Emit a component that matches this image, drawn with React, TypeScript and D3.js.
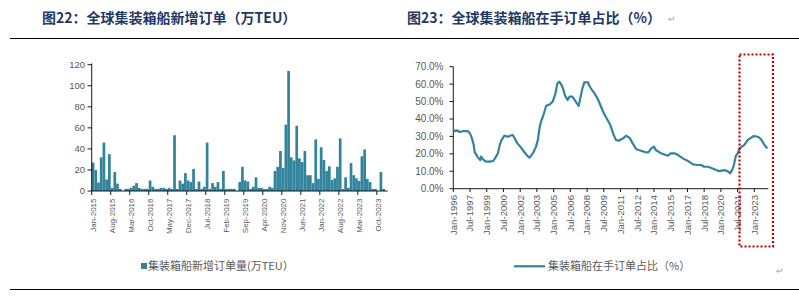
import * as d3 from 'd3';

// ---- left chart: monthly new container ship orders (万TEU), Jan-2015 .. Jan-2024
const orderStart = new Date(2015, 0, 1);
const orderValues = [
  27, 20, 8, 32, 46, 11, 35, 3, 18, 7, 2, 0,
  2, 2, 3, 5, 7.5, 3, 2, 2, 2, 10, 4, 2,
  2, 3, 3, 2, 3, 2, 53, 2, 10, 7, 17, 10,
  8.5, 21, 2, 9, 2, 4, 46, 2, 7.5, 4, 8.5, 2,
  19, 2, 2, 2, 2, 0, 8.5, 23, 10, 9, 2, 4,
  13, 3, 3, 2, 2, 4, 3, 19, 23, 38, 22, 63,
  114, 32, 29, 62, 31, 27.5, 38, 15, 15, 7.5, 49, 11.5,
  41.5, 29.5, 19, 23.5, 10.5, 12, 23, 50, 2, 13, 3, 26.5,
  15, 12, 9.5, 33, 39.5, 11.5, 8.5, 2, 2, 0, 18, 2,
  0,
];
const orderTickLabels = [
  'Jan-2015', 'Aug-2015', 'Mar-2016', 'Oct-2016', 'May-2017', 'Dec-2017',
  'Jul-2018', 'Feb-2019', 'Sep-2019', 'Apr-2020', 'Nov-2020', 'Jun-2021',
  'Jan-2022', 'Aug-2022', 'Mar-2023', 'Oct-2023',
];
const orderYTicks = [0, 20, 40, 60, 80, 100, 120];

// ---- right chart: orderbook share of fleet (%)
const shareMonths = [
  '1996-01', '1996-03', '1996-05', '1996-08', '1996-11', '1997-03', '1997-05', '1997-07',
  '1997-09', '1997-11', '1997-12', '1998-03', '1998-06', '1998-07', '1998-09', '1998-12',
  '1999-04', '1999-08', '1999-11', '2000-01', '2000-03', '2000-05', '2000-08', '2000-12',
  '2001-02', '2001-05', '2001-07', '2001-10', '2002-02', '2002-06', '2002-09', '2002-11',
  '2003-03', '2003-06', '2003-08', '2003-10', '2003-12', '2004-02', '2004-05', '2004-09',
  '2004-12', '2005-03', '2005-05', '2005-07', '2005-09', '2005-11', '2006-01', '2006-04',
  '2006-06', '2006-09', '2006-11', '2007-02', '2007-04', '2007-05', '2007-08', '2007-10',
  '2008-02', '2008-03', '2008-05', '2008-09', '2009-01', '2009-04', '2009-07', '2009-10',
  '2010-02', '2010-05', '2010-08', '2010-11', '2011-02', '2011-04', '2011-07', '2011-11',
  '2012-02', '2012-06', '2012-11', '2013-05', '2013-07', '2013-10', '2014-01', '2014-03',
  '2014-07', '2014-10', '2015-04', '2015-07', '2015-11', '2016-03', '2016-08', '2017-01',
  '2017-07', '2017-12', '2018-04', '2018-07', '2018-11', '2019-02', '2019-08', '2019-11',
  '2020-05', '2020-08', '2020-11', '2021-01', '2021-03', '2021-05', '2021-07', '2021-09',
  '2021-11', '2022-02', '2022-06', '2022-09', '2022-12', '2023-05', '2023-08', '2023-12',
  '2024-03',
];
const shareValues = [
  34, 33, 33.5, 32.5, 33, 33, 33, 31.7,
  29, 25, 21, 18.4, 16.4, 18.4, 16.8, 15.5,
  15.5, 15.9, 18.4, 20.3, 25, 28, 30.4, 29.8,
  30.4, 30.8, 29, 26, 23.5, 20.6, 18.7, 17.8,
  20.6, 24, 28, 35.5, 39.4, 42.3, 47.6, 48.4,
  50, 54.7, 60.4, 61.4, 59.9, 57.6, 53.7, 50.9,
  52.8, 52.8, 51.4, 49, 47.6, 50, 57.6, 61,
  61, 59.5, 57.6, 54.7, 50.9, 47, 43.2, 40.4,
  36.5, 31.7, 28, 27.5, 28.5, 29, 30.4, 29,
  26, 22.6, 21.8, 20.8, 20.8, 23.1, 24.1, 22.2,
  20.8, 20.1, 18.9, 20.3, 20.3, 19.3, 17.4, 16.1,
  14, 13.6, 13.6, 12.6, 12.6, 12, 10.7, 10.1,
  10.7, 10.1, 8.8, 10.7, 13.6, 18.7, 20.3, 22.8,
  24.1, 25, 28, 29, 30.2, 29.8, 28.5, 25,
  23.1,
];
const shareTickLabels = [
  'Jan-1996', 'Jul-1997', 'Jan-1999', 'Jul-2000', 'Jan-2002', 'Jul-2003', 'Jan-2005',
  'Jul-2006', 'Jan-2008', 'Jul-2009', 'Jan-2011', 'Jul-2012', 'Jan-2014', 'Jul-2015',
  'Jan-2017', 'Jul-2018', 'Jan-2020', 'Jul-2021', 'Jan-2023',
];
const shareYTicks = [0, 0.1, 0.2, 0.3, 0.4, 0.5, 0.6, 0.7];

const TEAL = '#31849B';
const GREY = '#595959';
const NAVY = '#1F3864';
const LATIN = '"Liberation Sans", Arial, sans-serif';
const CJK = '"Noto Sans CJK SC", sans-serif';

function OrderChart() {
  const cats = d3.timeMonth.range(orderStart, d3.timeMonth.offset(orderStart, orderValues.length));
  const fmt = d3.timeFormat('%b-%Y');
  const x = d3.scaleBand<Date>().domain(cats).range([91.7, 387.7]).padding(0);
  const y = d3.scaleLinear().domain([0, 120]).range([191, 64.7]);
  const tickCats = cats.filter((d) => orderTickLabels.includes(fmt(d)));

  return (
    <g>
      {orderValues.map((v, i) => (
        <rect key={i} x={x(cats[i])!} width={x.bandwidth()} y={y(v)} height={y(0) - y(v)} fill={TEAL} />
      ))}
      <line x1={91.7} x2={91.7} y1={63.5} y2={191} stroke="#000" strokeWidth={0.9} />
      <line x1={91.7} x2={387.7} y1={191} y2={191} stroke="#000" strokeWidth={0.9} />
      {orderYTicks.map((t) => (
        <g key={t}>
          <line x1={87.5} x2={91.7} y1={y(t)} y2={y(t)} stroke="#000" strokeWidth={0.9} />
          <text x={85} y={y(t)} dy="0.35em" textAnchor="end" fontSize={9.5} fill={GREY} fontFamily={LATIN}>
            {t}
          </text>
        </g>
      ))}
      {tickCats.map((d) => (
        <g key={+d}>
          <line x1={x(d)!} x2={x(d)!} y1={191} y2={195} stroke="#000" strokeWidth={0.9} />
          <text
            transform={`translate(${x(d)! + x.bandwidth() / 2},198.5) rotate(-90)`}
            dy="0.35em"
            textAnchor="end"
            fontSize={8}
            fill={GREY}
            fontFamily={LATIN}
          >
            {fmt(d)}
          </text>
        </g>
      ))}
      <rect x={141} y={263} width={6} height={6} fill={TEAL} />
      <text x={148} y={266} dy="0.35em" fontSize={11} fill={GREY} fontFamily={CJK}>
        集装箱船新增订单量(万TEU）
      </text>
    </g>
  );
}

function ShareChart() {
  const parse = d3.timeParse('%Y-%m');
  const fmt = d3.timeFormat('%b-%Y');
  const parseLabel = d3.timeParse('%b-%Y');
  const x = d3.scaleTime().domain([new Date(1996, 0, 1), new Date(2024, 3, 1)]).range([453.3, 768.3]);
  const y = d3.scaleLinear().domain([0, 0.7]).range([188.7, 66.7]);
  const pts = shareMonths.map((m, i) => ({ d: parse(m)!, v: shareValues[i] / 100 }));
  const line = d3.line<{ d: Date; v: number }>().x((p) => x(p.d)).y((p) => y(p.v));

  return (
    <g>
      <line x1={453.3} x2={453.3} y1={66.7} y2={188.7} stroke="#000" strokeWidth={0.9} />
      <line x1={453.3} x2={768.3} y1={188.7} y2={188.7} stroke="#000" strokeWidth={0.9} />
      {shareYTicks.map((t) => (
        <g key={t}>
          <line x1={449.5} x2={453.3} y1={y(t)} y2={y(t)} stroke="#000" strokeWidth={0.9} />
          <text x={443.5} y={y(t)} dy="0.35em" textAnchor="end" fontSize={10} fill={GREY} fontFamily={LATIN}>
            {d3.format('.1%')(t)}
          </text>
        </g>
      ))}
      {shareTickLabels.map((lab) => {
        const d = parseLabel(lab)!;
        return (
          <g key={lab}>
            <line x1={x(d)} x2={x(d)} y1={188.7} y2={192} stroke="#000" strokeWidth={0.9} />
            <text
              transform={`translate(${x(d)},195) rotate(-90)`}
              dy="0.35em"
              textAnchor="end"
              fontSize={9.6}
              fill={GREY}
              fontFamily={LATIN}
            >
              {fmt(d)}
            </text>
          </g>
        );
      })}
      <path d={line(pts)!} fill="none" stroke={TEAL} strokeWidth={2.2} strokeLinejoin="round" />
      <line x1={514} x2={545} y1={266.3} y2={266.3} stroke={TEAL} strokeWidth={2.2} />
      <text x={548} y={266} dy="0.35em" fontSize={11} fill={GREY} fontFamily={CJK}>
        集装箱船在手订单占比（%）
      </text>
      <text x={776} y={274} fontSize={9} fill="#A6A6A6" fontFamily={LATIN}>↵</text>
      <rect
        x={739.5}
        y={54.5}
        width={33.5}
        height={192}
        fill="none"
        stroke="#C00000"
        strokeWidth={2.2}
        strokeDasharray="2 2"
      />
    </g>
  );
}

export default function App() {
  return (
    <svg
      width={799}
      height={298}
      viewBox="0 0 799 298"
      style={{ position: 'absolute', left: 0, top: 0, background: '#fff' }}
    >
      <text x={42} y={23} fontSize={14} fontWeight={700} fill={NAVY} fontFamily={CJK}>
        图22：全球集装箱船新增订单（万TEU）
      </text>
      <text x={407} y={23} fontSize={14} fontWeight={700} fill={NAVY} fontFamily={CJK}>
        图23：全球集装箱船在手订单占比（%）
      </text>
      <text x={668} y={22} fontSize={9} fill="#A6A6A6" fontFamily={LATIN}>↵</text>
      <line x1={10} x2={799} y1={38.5} y2={38.5} stroke="#000" strokeWidth={1.2} />
      <line x1={10} x2={799} y1={289.5} y2={289.5} stroke="#000" strokeWidth={1.2} />
      <OrderChart />
      <ShareChart />
    </svg>
  );
}
